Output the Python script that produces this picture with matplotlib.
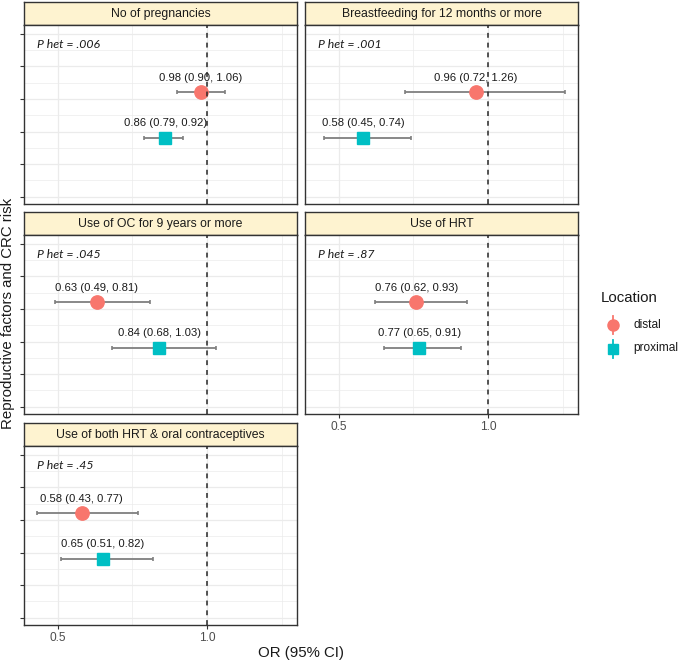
import matplotlib
matplotlib.use("Agg")
import matplotlib.pyplot as plt
from matplotlib.lines import Line2D

plt.rcParams['font.family'] = ['Liberation Sans', 'DejaVu Sans']

# ---- data ----
facets = ["No of pregnancies", "Breastfeeding for 12 months or more",
          "Use of OC for 9 years or more", "Use of HRT",
          "Use of both HRT & oral contraceptives"]
distal_or = [0.98, 0.96, 0.63, 0.76, 0.58]
distal_lo = [0.90, 0.72, 0.49, 0.62, 0.43]
distal_hi = [1.06, 1.26, 0.81, 0.93, 0.77]
prox_or = [0.86, 0.58, 0.84, 0.77, 0.65]
prox_lo = [0.79, 0.45, 0.68, 0.65, 0.51]
prox_hi = [0.92, 0.74, 1.03, 0.91, 0.82]
p_het = [".006", ".001", ".045", ".87", ".45"]
locations = ["distal", "proximal"]
x_ticks = [0.5, 1.0]
x_ticklabels = ["0.5", "1.0"]

# ---- style ----
W, H = 680, 664
DPI = 100
C_DIST = "#F8766D"
C_PROX = "#00BFC4"
STRIP = "#FEF3D0"
DARK = "#333333"
GRID = "#EBEBEB"

fig = plt.figure(figsize=(W / DPI, H / DPI), dpi=DPI)


def rect(x0, y0, x1, y1):
    return [x0 / W, 1 - y1 / H, (x1 - x0) / W, (y1 - y0) / H]


cols = [(24, 297), (305, 578)]
rows = [(2, 25, 204), (212, 235, 414), (423, 446, 625)]
Y_DIST, Y_PROX, Y_LAB, Y_P = 4.2, 2.8, 0.45, 5.67
XLIM = (0.386, 1.302)
YLIM = (0.776, 6.267)

for i, name in enumerate(facets):
    r, c = divmod(i, 2)
    xs, xe = cols[c]
    st, at, ab = rows[r]
    # strip
    sax = fig.add_axes(rect(xs, st, xe, at))
    sax.set_facecolor(STRIP)
    sax.set_xticks([]); sax.set_yticks([])
    for sp in sax.spines.values():
        sp.set_color(DARK); sp.set_linewidth(1.0)
    sax.text(0.5, 0.48, name, ha='center', va='center', fontsize=8.8,
             color='#1A1A1A', transform=sax.transAxes)

    ax = fig.add_axes(rect(xs, at, xe, ab))
    ax.set_xlim(*XLIM)
    ax.set_ylim(*YLIM)
    ax.set_xticks(x_ticks)
    ax.set_xticks([0.75, 1.25], minor=True)
    ax.set_yticks([1, 2, 3, 4, 5, 6])
    ax.set_yticks([1.5, 2.5, 3.5, 4.5, 5.5], minor=True)
    ax.grid(True, which='major', color=GRID, lw=0.9)
    ax.grid(True, which='minor', color=GRID, lw=0.5)
    ax.set_axisbelow(True)
    for sp in ax.spines.values():
        sp.set_color(DARK); sp.set_linewidth(1.0)
    ax.tick_params(which='minor', length=0)
    ax.tick_params(axis='both', which='major', color=DARK, length=2.8, width=0.8,
                   labelsize=8.6, labelcolor='#4D4D4D', pad=2.5)
    # y ticks only on left column
    ax.set_yticklabels([])
    if c == 1:
        ax.tick_params(axis='y', which='major', length=0)
    # x tick labels only for bottom panel of each column
    bottom = (c == 0 and r == 2) or (c == 1 and r == 1)
    if bottom:
        ax.set_xticklabels(x_ticklabels)
    else:
        ax.tick_params(axis='x', which='major', length=0, labelbottom=False)

    for (est, lo, hi, y, col, mk, ms) in [
        (distal_or[i], distal_lo[i], distal_hi[i], Y_DIST, C_DIST, 'o', 9.6),
        (prox_or[i], prox_lo[i], prox_hi[i], Y_PROX, C_PROX, 's', 8.4)]:
        ax.errorbar([est], [y], xerr=[[est - lo], [hi - est]], fmt='none',
                    ecolor='#7F7F7F', elinewidth=1.3, capsize=1.6,
                    capthick=1.2, zorder=2)
        ax.plot([est], [y], marker=mk, ms=ms, color=col, mec=col,
                linestyle='none', zorder=3)
        ax.text(est, y + Y_LAB, f"{est:.2f} ({lo:.2f}, {hi:.2f})",
                ha='center', va='center', fontsize=8.1, color='#1A1A1A',
                zorder=4)
    ax.text(0.43, Y_P, f"P het = {p_het[i]}", ha='left', va='center',
            fontsize=8.8, style='italic', family=['Lato', 'DejaVu Sans'],
            color='#1A1A1A', zorder=4)
    ax.axvline(1.0, color='#262626', lw=1.1, linestyle=(0, (3.2, 3.2)),
               zorder=5)

# axis titles
fig.text(301 / W, 1 - 653 / H, "OR (95% CI)", ha='center', va='center',
         fontsize=10.8, color='#1A1A1A')
fig.text(8 / W, 1 - 313 / H, "Reproductive factors and CRC risk",
         ha='center', va='center', rotation=90, fontsize=10.8,
         color='#1A1A1A')

# legend (manual)
fig.text(601 / W, 1 - 298 / H, "Location", ha='left', va='center',
         fontsize=10.8, color='#1A1A1A')
lax = fig.add_axes([0, 0, 1, 1], facecolor='none')
lax.set_xlim(0, W); lax.set_ylim(H, 0); lax.axis('off')
for name, yc, col, mk, ms in [(locations[0], 325, C_DIST, 'o', 8.0),
                              (locations[1], 348.5, C_PROX, 's', 7.0)]:
    lax.add_line(Line2D([612.5, 612.5], [yc - 9, yc + 9], color=col, lw=1.3))
    lax.add_line(Line2D([612.5], [yc], marker=mk, ms=ms, color=col,
                        linestyle='none'))
    lax.text(633, yc, name, ha='left', va='center', fontsize=8.6,
             color='#1A1A1A')

fig.savefig("out.png", dpi=DPI)
